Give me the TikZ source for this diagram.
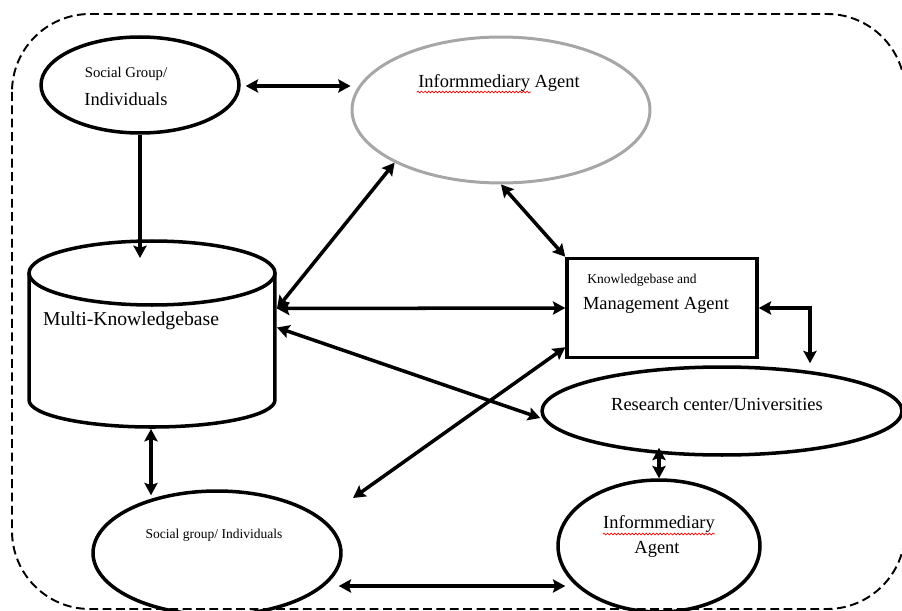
\documentclass[tikz,border=0pt]{standalone}
\usepackage{fontspec}
\setmainfont{Liberation Serif}
\usetikzlibrary{arrows.meta,calc,shapes.geometric,decorations.pathmorphing}
\definecolor{ringgray}{RGB}{166,166,166}
\begin{document}
\begin{tikzpicture}[x=0.02cm,y=-0.02cm,
	>={Stealth[length=7pt,width=7.5pt,inset=1.2pt]},
	ent/.style={ellipse,draw,line width=2pt,inner sep=0pt},
	conn/.style={line width=2pt},
	txs/.style={inner sep=0pt,font=\fontsize{7.7pt}{9pt}\selectfont},
	txm/.style={inner sep=0pt,font=\fontsize{10.5pt}{12pt}\selectfont},
	txl/.style={inner sep=0pt,font=\fontsize{11.2pt}{13pt}\selectfont},
	spell/.style={red,line width=0.4pt,decorate,decoration={snake,amplitude=0.5pt,segment length=2pt}}]
	\useasboundingbox (0,0) rectangle (902,611);
	
	% outer dashed frame
	\draw [line width=1.1pt,dash pattern=on 5pt off 2.6pt,rounded corners=1.56cm] (12,14) rectangle (905,609);
	
	% entities
	\draw (140,85) node[ent,minimum width=3.96cm,minimum height=1.92cm] (sgtop) {};
	\draw (501,110) node[ent,draw=ringgray,line width=1.7pt,minimum width=5.96cm,minimum height=2.92cm] (inftop) {};
	\draw (662,308) node[draw,line width=2pt,minimum width=3.8cm,minimum height=1.98cm,inner sep=0pt] (kbm) {};
	\draw (722,411) node[ent,minimum width=7.2cm,minimum height=1.76cm] (rc) {};
	\draw (659,546) node[ent,minimum width=4.04cm,minimum height=2.64cm] (infbot) {};
	\draw (217,553) node[ent,minimum width=4.96cm,minimum height=2.48cm] (sgbot) {};
	
	% multi-knowledgebase cylinder
	\draw (152,336.5) node[minimum width=4.92cm,minimum height=2.54cm,inner sep=0pt,outer sep=0pt] (kb) {};
	\draw [line width=2pt] (kb.north west) -- (kb.south west)
		.. controls (29,415) and (84,427) .. (152,427)
		.. controls (220,427) and (275,415) .. (kb.south east) -- (kb.north east);
	\draw (152,273) node[ent,minimum width=4.92cm,minimum height=1.28cm] (kbtop) {};
	
	% labels
	\draw (126,74) node[inner sep=0pt,font=\fontsize{8.4pt}{10pt}\selectfont] (sgtopa) {Social Group/};
	\draw (126,99) node[txm] (sgtopb) {Individuals};
	\draw (499,83) node[txm] (inftopa) {Informmediary Agent};
	\draw [spell] (417,92) -- (531,92);
	\draw (131,321) node[txl] (kba) {Multi-Knowledgebase};
	\draw (642,280) node[txs] (kbma) {Knowledgebase and};
	\draw (656,305) node[txm] (kbmb) {Management Agent};
	\draw (717,404) node[txm] (rca) {Research center/Universities};
	\draw (659,524) node[txm] (infbota) {Informmediary};
	\draw [spell] (603,534) -- (715,534);
	\draw (657,549) node[txm] (infbotb) {Agent};
	\draw (214,535) node[txs] (sgbota) {Social group/ Individuals};
	
	% connectors
	\coordinate (free) at (353,498);
	\draw [conn,<->] ($(sgtop.east)+(5,1)$) -- ($(inftop.west)+(0,-24)$);
	\draw [conn,->,shorten >=0.3cm] (sgtop.south) -- (sgtop.south |- kbtop.center);
	\draw [conn,<->] ($(kb.east)+(2,-28)$) -- (inftop.south west);
	\draw [conn,<->] ($(kb.east)+(2,-28)$) -- (kbm.west);
	\draw [conn,<->] ($(kb.east)+(2,-9)$) -- ($(rc.west)+(0,7)$);
	\draw [conn,<->] ($(kbm.south west)+(0,-12)$) -- (free);
	\draw [conn,<->] (inftop.south) -- (kbm.north west);
	\draw [conn,<->] (kbm.east) -| ($(rc.north)+(88,-2)$);
	\draw [conn,<->] (infbot.north) -- ($(infbot.north |- rc.south)+(0,-9)$);
	\draw [conn,<->] ($(sgbot.east)+(-4,33)$) -- ($(infbot.west)+(9,40)$);
	\draw [conn,<->] ($(kb.south)+(-1,29)$) -- ($(sgbot.north)+(-66,6)$);
\end{tikzpicture}
\end{document}
